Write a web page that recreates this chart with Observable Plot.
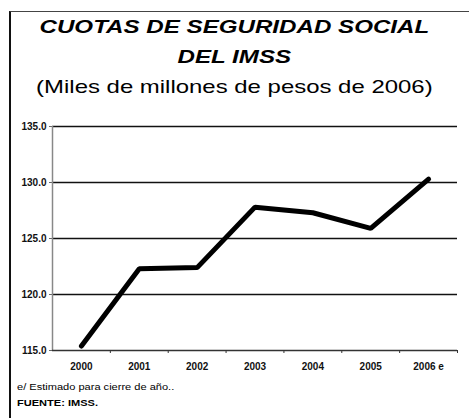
<!DOCTYPE html>
<html>
<head>
<meta charset="utf-8">
<script src="https://cdn.jsdelivr.net/npm/d3@7"></script>
<script src="https://cdn.jsdelivr.net/npm/@observablehq/plot@0.6"></script>
<style>
  html, body { margin: 0; padding: 0; background: #fff; }
  #wrap { position: relative; width: 469px; height: 418px; overflow: hidden; font-family: "Liberation Sans", Arial, sans-serif; }
  #frame { position: absolute; left: 9px; top: 11px; width: 470px; height: 420px; border-left: 2px solid #111; border-top: 1px solid #444; }
  .t { position: absolute; left: 0; width: 469px; text-align: center; white-space: nowrap; transform-origin: 235px 0; }
  #t1 { top: 16px; font-size: 19px; font-weight: bold; font-style: italic; transform: scaleX(1.27); }
  #t2 { top: 46px; font-size: 19px; font-weight: bold; font-style: italic; transform: scaleX(1.27); }
  #t3 { top: 76px; font-size: 19px; transform: scaleX(1.26); }
  #chart { position: absolute; left: 0; top: 110px; }
  .note { position: absolute; left: 17px; font-size: 8.5px; white-space: nowrap; transform-origin: 0 0; transform: scaleX(1.3); }
  #n1 { top: 382px; }
  #n2 { top: 398px; font-weight: bold; }
</style>
</head>
<body>
<div id="wrap">
  <div id="frame"></div>
  <div class="t" id="t1">CUOTAS DE SEGURIDAD SOCIAL</div>
  <div class="t" id="t2">DEL IMSS</div>
  <div class="t" id="t3">(Miles de millones de pesos de 2006)</div>
  <div id="chart"></div>
  <div class="note" id="n1">e/ Estimado para cierre de año..</div>
  <div class="note" id="n2">FUENTE: IMSS.</div>
</div>
<script>
const years = [2000, 2001, 2002, 2003, 2004, 2005, 2006];
const yearLabels = ["2000", "2001", "2002", "2003", "2004", "2005", "2006 e"];
const values = [115.4, 122.3, 122.4, 127.8, 127.3, 125.9, 130.3];
const yTicks = [115, 120, 125, 130, 135];

const data = years.map((y, i) => ({year: y, value: values[i]}));
const boundaries = years.map(y => y + 0.5);

const plot = Plot.plot({
  width: 469,
  height: 290,
  marginLeft: 52,
  marginRight: 12,
  marginTop: 16,
  marginBottom: 50,
  x: {domain: [years[0] - 0.5, years[years.length - 1] + 0.5]},
  y: {domain: [yTicks[0], yTicks[yTicks.length - 1]]},
  style: {fontFamily: "Liberation Sans, Arial, sans-serif", background: "transparent", color: "#111"},
  marks: [
    Plot.ruleY(yTicks.slice(1), {stroke: "#111", strokeWidth: 1.5}),
    Plot.axisY({ticks: yTicks, tickFormat: d => d.toFixed(1), tickSize: 3, tickPadding: 3, fontWeight: "bold", fontSize: 10, label: null, stroke: "#666"}),
    Plot.ruleX([years[0] - 0.5], {stroke: "#888", strokeWidth: 1.5}),
    Plot.ruleY([yTicks[0]], {stroke: "#333", strokeWidth: 1.5}),
    Plot.axisX({ticks: boundaries, tickFormat: () => "", tickSize: 3, label: null, stroke: "#333"}),
    Plot.axisX({ticks: years, tickFormat: (d) => yearLabels[years.indexOf(d)], tickSize: 0, tickPadding: 12, fontWeight: "bold", fontSize: 10, label: null}),
    Plot.line(data, {x: "year", y: "value", stroke: "#000", strokeWidth: 5, strokeLinecap: "round", strokeLinejoin: "miter"})
  ]
});
document.getElementById("chart").appendChild(plot);
</script>
</body>
</html>
